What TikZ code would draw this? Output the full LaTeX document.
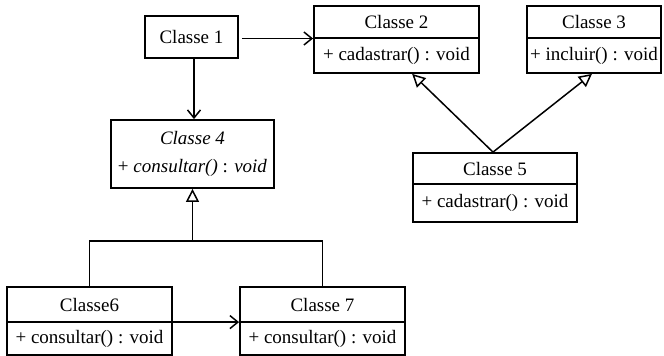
\documentclass[tikz,border=0pt]{standalone}
\usepackage{fontspec}
\setmainfont{Liberation Serif}
\newfontfamily\tnr{Liberation Serif}
\usetikzlibrary{arrows.meta,calc}
\begin{document}
\begin{tikzpicture}[x=1pt,y=-1pt,
  box/.style={draw=black, line width=1.8pt, rectangle, inner sep=0pt, anchor=center},
  txt/.style={inner sep=0pt, font=\tnr\fontsize{19}{23}\selectfont},
  assoc/.style={draw=black, line width=1.5pt, -{Straight Barb[length=8pt,width=13pt]}},
  inh/.style={draw=black, line width=1.5pt, -{Triangle[open,length=13pt,width=13pt,fill=white]}},
  plain/.style={draw=black, line width=1.5pt}
]
\useasboundingbox (0,0) rectangle (664,356);

% Classe 1
\node[box, minimum width=93pt, minimum height=42pt] (c1) at (191.5,37) {};
\node[txt] (c1a) at (c1.center) {Classe 1};

% Classe 2
\node[box, minimum width=165pt, minimum height=32pt] (c2t) at (396.5,22) {};
\node[box, minimum width=165pt, minimum height=35pt] (c2m) at (396.5,55.5) {};
\node[txt] (c2a) at (c2t.center) {Classe 2};
\node[txt] (c2b) at (c2m.center) {+ cadastrar() : void};

% Classe 3
\node[box, minimum width=134pt, minimum height=32pt] (c3t) at (594,22) {};
\node[box, minimum width=134pt, minimum height=35pt] (c3m) at (594,55.5) {};
\node[txt] (c3a) at (c3t.center) {Classe 3};
\node[txt] (c3b) at (c3m.center) {+ incluir() : void};

% Classe 4 (abstract)
\node[box, minimum width=163pt, minimum height=68pt] (c4) at (192.5,154) {};
\node[txt] (c4a) at (192.5,138) {\textit{Classe 4}};
\node[txt] (c4b) at (192.5,168) {+ \textit{consultar()} : \textit{void}};

% Classe 5
\node[box, minimum width=164pt, minimum height=31pt] (c5t) at (495,168.5) {};
\node[box, minimum width=164pt, minimum height=38pt] (c5m) at (495,203) {};
\node[txt] (c5a) at (c5t.center) {Classe 5};
\node[txt] (c5b) at (c5m.center) {+ cadastrar() : void};

% Classe6
\node[box, minimum width=165pt, minimum height=35pt] (c6t) at (89.5,304.5) {};
\node[box, minimum width=165pt, minimum height=33pt] (c6m) at (89.5,338.5) {};
\node[txt] (c6a) at (c6t.center) {Classe6};
\node[txt] (c6b) at (c6m.center) {+ consultar() : void};

% Classe 7
\node[box, minimum width=165pt, minimum height=35pt] (c7t) at (322.5,304.5) {};
\node[box, minimum width=165pt, minimum height=33pt] (c7m) at (322.5,338.5) {};
\node[txt] (c7a) at (c7t.center) {Classe 7};
\node[txt] (c7b) at (c7m.center) {+ consultar() : void};

% connectors
\draw[assoc, shorten <=3pt] ($(c1.east)+(0,1.5)$) -- ($(c1.east -| c2t.west)+(0,1.5)$);
\draw[assoc] ($(c1.south)+(2.5,0)$) -- ($(c1.south |- c4.north)+(2.5,0)$);

\coordinate (c5apex) at ($(c5t.north)+(-2,0)$);
\draw[inh] (c5apex) -- ($(c2m.south west)!0.594!(c2m.south east)$);
\draw[inh] (c5apex) -- ($(c3m.south west)!0.485!(c3m.south east)$);

\coordinate (junc) at (193,241);
\draw[plain] (c6t.north) |- (c7t.north |- junc) -- (c7t.north);
\draw[inh] (c4.south |- junc) -- (c4.south);

\draw[assoc] ($(c6m.north east)+(0,1)$) -- ($(c7m.north west)+(0,1)$);
\end{tikzpicture}
\end{document}
